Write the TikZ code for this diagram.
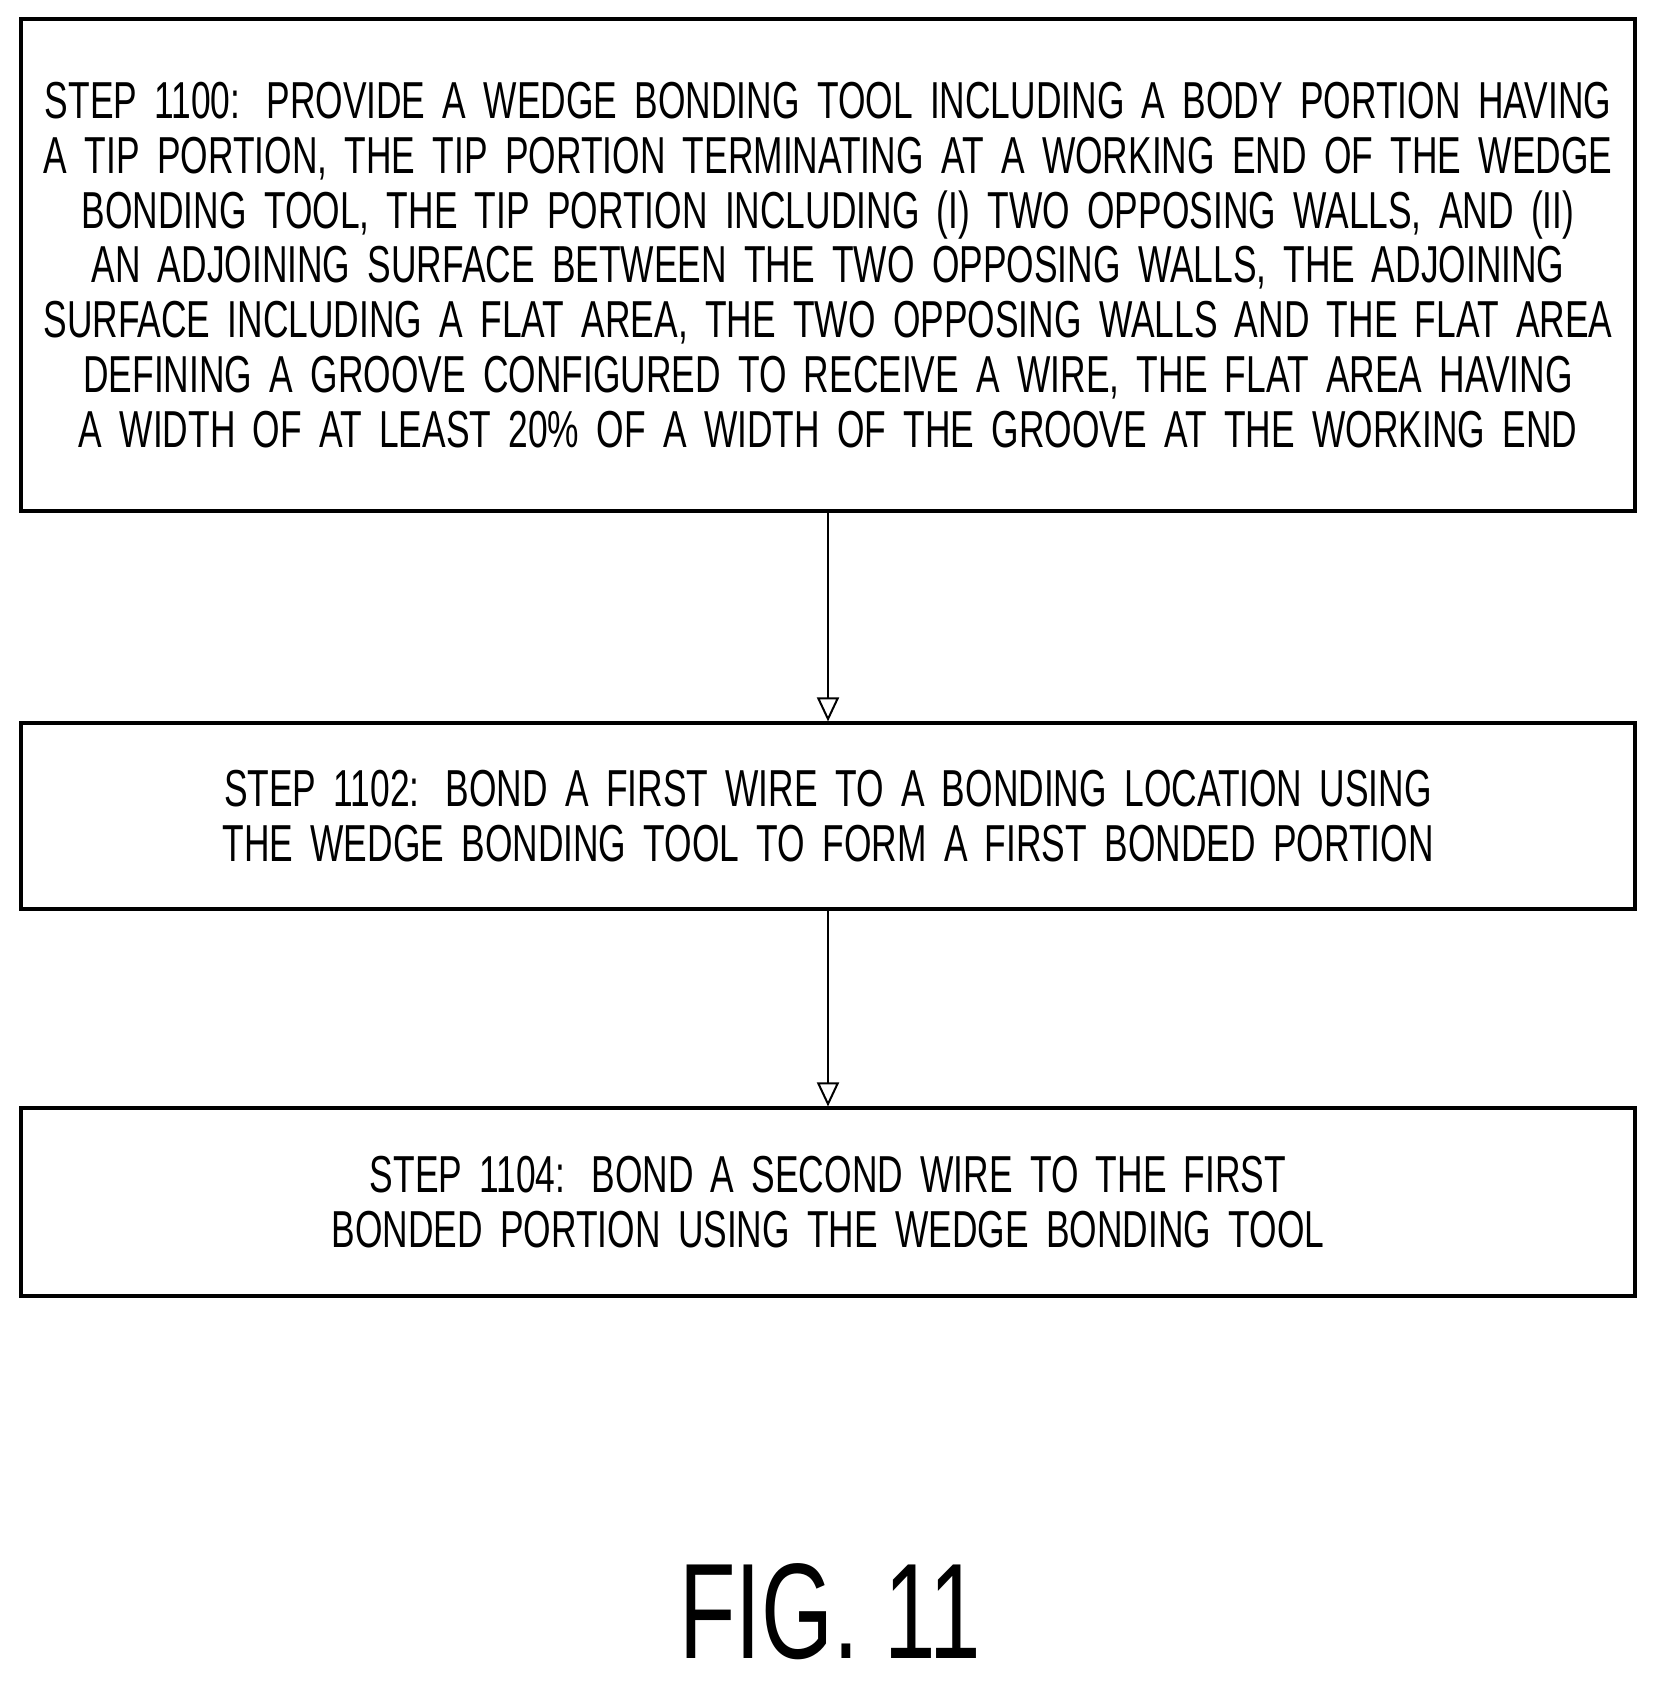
\documentclass[tikz,border=0pt]{standalone}
\usepackage{fontspec}
\setmainfont{Liberation Sans}[FakeStretch=0.68]
\usetikzlibrary{arrows.meta}

\tikzset{
  stepbox/.style={draw, line width=1.6pt, minimum width=807pt, text width=790pt,
    align=center, inner sep=0pt, font=\fontsize{26}{27.4}\selectfont},
  flow/.style={-{Triangle[open,length=12pt,width=11pt]}, line width=1pt},
}

\begin{document}
\begin{tikzpicture}[x=0.5pt,y=-0.5pt]
\useasboundingbox (0,0) rectangle (1660,1682);

\node[stepbox, minimum height=246pt] (s1100) at (828,265) {STEP 1100: PROVIDE A WEDGE BONDING TOOL INCLUDING A BODY PORTION HAVING A TIP PORTION, THE TIP PORTION TERMINATING AT A WORKING END OF THE WEDGE BONDING TOOL, THE TIP PORTION INCLUDING (I) TWO OPPOSING WALLS, AND (II) AN ADJOINING SURFACE BETWEEN THE TWO OPPOSING WALLS, THE ADJOINING SURFACE INCLUDING A FLAT AREA, THE TWO OPPOSING WALLS AND THE FLAT AREA DEFINING A GROOVE CONFIGURED TO RECEIVE A WIRE, THE FLAT AREA HAVING A WIDTH OF AT LEAST 20\% OF A WIDTH OF THE GROOVE AT THE WORKING END};

\node[stepbox, minimum height=93pt] (s1102) at (828,816) {STEP 1102: BOND A FIRST WIRE TO A BONDING LOCATION USING THE WEDGE BONDING TOOL TO FORM A FIRST BONDED PORTION};

\node[stepbox, minimum height=94pt] (s1104) at (828,1202) {STEP 1104: BOND A SECOND WIRE TO THE FIRST BONDED PORTION USING THE WEDGE BONDING TOOL};

\node[font=\fontsize{68}{68}\selectfont] (fig) at (830,1612) {FIG. 11};

\draw[flow] (s1100) -- (s1102);
\draw[flow] (s1102) -- (s1104);

\end{tikzpicture}
\end{document}
